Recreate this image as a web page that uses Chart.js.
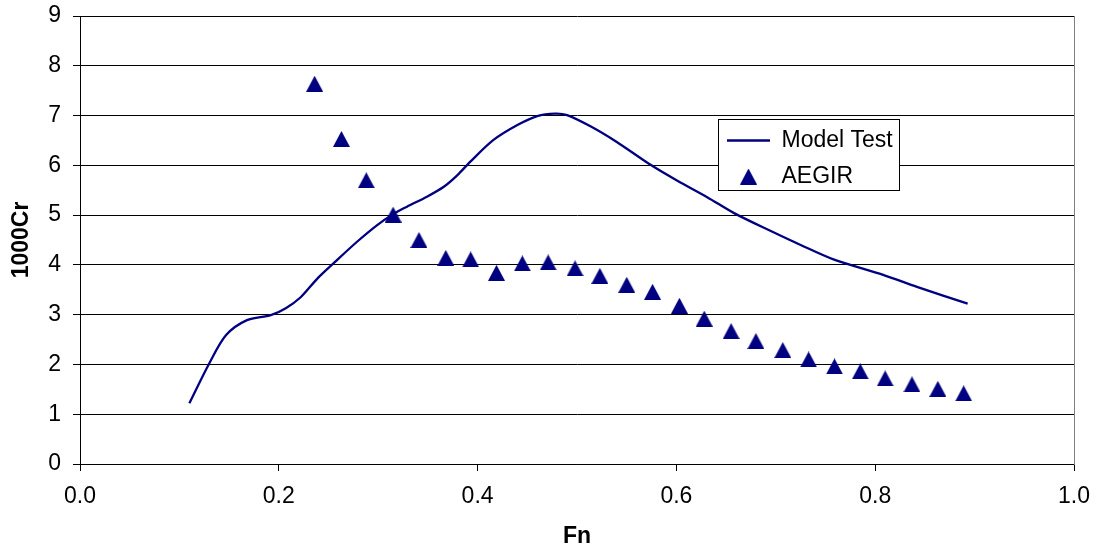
<!DOCTYPE html>
<html>
<head>
<meta charset="utf-8">
<script src="https://cdn.jsdelivr.net/npm/chart.js@4.4.0/dist/chart.umd.min.js"></script>
<style>
  html, body { margin: 0; padding: 0; background: #ffffff; }
  #wrap { width: 1097px; height: 550px; }
</style>
</head>
<body>
<div id="wrap"><canvas id="c" width="1097" height="550"></canvas></div>
<script>
// ---- data ----
const modelLabel = 'Model Test';
const modelFn = [0.110, 0.130, 0.147, 0.168, 0.192, 0.207, 0.222, 0.239, 0.256, 0.279, 0.299, 0.315, 0.329, 0.349, 0.366, 0.380, 0.393, 0.416, 0.440, 0.460, 0.478, 0.490, 0.514, 0.540, 0.574, 0.601, 0.631, 0.658, 0.695, 0.725, 0.758, 0.808, 0.842, 0.893];
const modelCr = [1.22, 2.02, 2.59, 2.89, 2.99, 3.13, 3.35, 3.73, 4.05, 4.47, 4.80, 5.02, 5.17, 5.37, 5.57, 5.81, 6.08, 6.51, 6.81, 6.99, 7.04, 7.01, 6.78, 6.47, 6.01, 5.69, 5.36, 5.04, 4.68, 4.40, 4.11, 3.80, 3.56, 3.22];

const aegirLabel = 'AEGIR';
const aegirFn = [0.236, 0.263, 0.288, 0.315, 0.341, 0.368, 0.393, 0.419, 0.445, 0.471, 0.498, 0.523, 0.550, 0.576, 0.603, 0.628, 0.655, 0.680, 0.707, 0.733, 0.759, 0.785, 0.810, 0.837, 0.863, 0.889];
const aegirCr = [7.64, 6.53, 5.70, 5.01, 4.50, 4.14, 4.11, 3.84, 4.03, 4.05, 3.93, 3.78, 3.60, 3.46, 3.18, 2.92, 2.67, 2.47, 2.29, 2.10, 1.96, 1.86, 1.72, 1.60, 1.51, 1.42];

const xTickValues = [0.0, 0.2, 0.4, 0.6, 0.8, 1.0];
const yTickValues = [0, 1, 2, 3, 4, 5, 6, 7, 8, 9];
const xTitle = 'Fn';
const yTitle = '1000Cr';

// ---- styling ----
const NAVY = '#000080';
const FONT = "'Liberation Sans', Arial, sans-serif";
const FS = 23;
const LEGEND_BOX = { x: 718, y: 119, w: 181, h: 71 };

function makeTriangle(w, h, color) {
  const c = document.createElement('canvas');
  c.width = w; c.height = h;
  const g = c.getContext('2d');
  g.fillStyle = color;
  g.beginPath();
  g.moveTo(w / 2, 0);
  g.lineTo(w, h);
  g.lineTo(0, h);
  g.closePath();
  g.fill();
  return c;
}
const triangle = makeTriangle(17, 16, NAVY);

function noScalePadding(s) {
  s.paddingTop = 0; s.paddingBottom = 0; s.paddingLeft = 0; s.paddingRight = 0;
}

const legendPlacer = {
  id: 'legendPlacer',
  afterLayout(chart) {
    const lg = chart.legend;
    if (!lg) return;
    const pad = lg.options.labels.padding;
    const w = lg.width, h = lg.height;
    lg.left = LEGEND_BOX.x + 9 - pad;
    lg.top = LEGEND_BOX.y - 3;
    lg.right = lg.left + w;
    lg.bottom = lg.top + h;
    if (!lg._boxPatched) {
      lg._boxPatched = true;
      const proto = Object.getPrototypeOf(lg);
      lg.draw = function (area) {
        const ctx = chart.ctx;
        ctx.save();
        ctx.fillStyle = '#ffffff';
        ctx.fillRect(LEGEND_BOX.x, LEGEND_BOX.y, LEGEND_BOX.w, LEGEND_BOX.h);
        ctx.strokeStyle = '#000000';
        ctx.lineWidth = 1;
        ctx.strokeRect(LEGEND_BOX.x + 0.5, LEGEND_BOX.y + 0.5, LEGEND_BOX.w, LEGEND_BOX.h);
        ctx.restore();
        proto.draw.call(this, area);
      };
    }
  }
};

new Chart(document.getElementById('c'), {
  type: 'scatter',
  data: {
    datasets: [
      {
        label: modelLabel,
        data: modelFn.map((x, i) => ({ x, y: modelCr[i] })),
        showLine: true,
        borderColor: NAVY,
        backgroundColor: NAVY,
        borderWidth: 2.3,
        pointRadius: 0,
        pointHoverRadius: 0,
        pointStyle: 'line',
        pointBorderWidth: 2.3,
        tension: 0.3,
        order: 1
      },
      {
        label: aegirLabel,
        data: aegirFn.map((x, i) => ({ x, y: aegirCr[i] })),
        showLine: false,
        borderColor: NAVY,
        backgroundColor: NAVY,
        pointStyle: triangle,
        pointRadius: 8,
        order: 0
      }
    ]
  },
  options: {
    responsive: false,
    animation: false,
    devicePixelRatio: 1,
    layout: { padding: { top: 16, right: 23, left: 0, bottom: 0 } },
    plugins: {
      tooltip: { enabled: false },
      legend: {
        position: 'chartArea',
        align: 'start',
        labels: {
          usePointStyle: true,
          pointStyleWidth: 43,
          padding: 13,
          color: '#000000',
          font: { family: FONT, size: FS },
          sort: (a, b) => a.datasetIndex - b.datasetIndex
        }
      }
    },
    scales: {
      x: {
        type: 'linear',
        position: 'bottom',
        min: 0, max: 1,
        afterBuildTicks: (s) => { s.ticks = xTickValues.map(v => ({ value: v })); },
        afterFit: (s) => { s.height = 86; noScalePadding(s); },
        ticks: {
          color: '#000000',
          padding: 12,
          maxRotation: 0,
          font: { family: FONT, size: FS },
          callback: (v) => Number(v).toFixed(1)
        },
        grid: { drawOnChartArea: false, drawTicks: true, tickLength: 7, color: '#000000', lineWidth: 1 },
        border: { color: '#000000', width: 1 },
        title: { display: true, text: xTitle, color: '#000000', font: { family: FONT, size: FS, weight: 'bold' }, padding: { top: 0, bottom: 0 } }
      },
      y: {
        type: 'linear',
        position: 'left',
        min: 0, max: 9,
        afterBuildTicks: (s) => { s.ticks = yTickValues.map(v => ({ value: v })); },
        afterFit: (s) => { s.width = 80; noScalePadding(s); },
        ticks: {
          color: '#000000',
          padding: 12,
          font: { family: FONT, size: FS },
          callback: (v) => String(v)
        },
        grid: { drawOnChartArea: true, drawTicks: true, tickLength: 7, color: '#000000', lineWidth: 1, z: -1 },
        border: { color: '#000000', width: 1 },
        title: { display: true, text: yTitle, color: '#000000', font: { family: FONT, size: FS, weight: 'bold' }, padding: { top: 8, bottom: 0 } }
      },
      y2: {
        type: 'linear',
        position: 'right',
        min: 0, max: 9,
        afterFit: (s) => { s.width = 0; noScalePadding(s); },
        ticks: { display: false },
        grid: { drawOnChartArea: false, drawTicks: false },
        border: { color: '#808080', width: 1 }
      }
    }
  },
  plugins: [legendPlacer]
});
</script>
</body>
</html>
